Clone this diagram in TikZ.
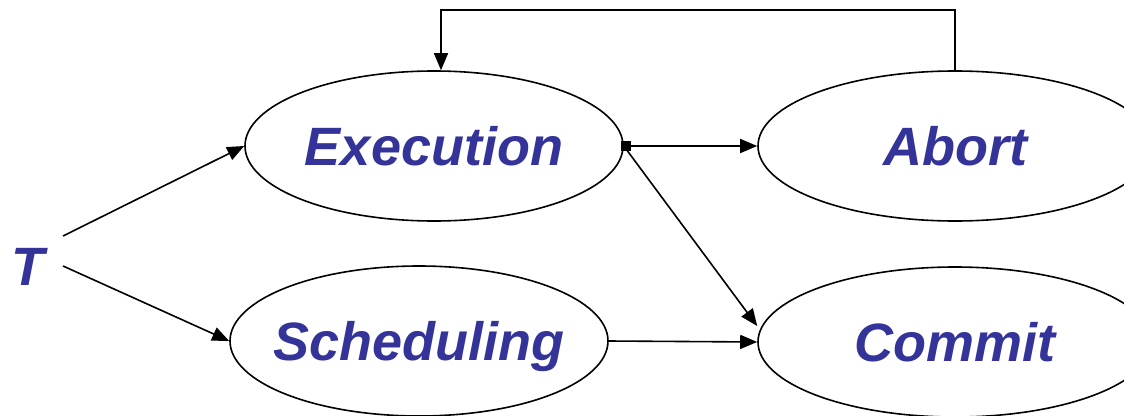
\documentclass[tikz,border=0pt]{standalone}
\usepackage{fontspec}
\setmainfont{Liberation Sans}
\usetikzlibrary{shapes.geometric,arrows.meta,calc}
\definecolor{labelblue}{HTML}{333399}
\tikzset{
  labeltext/.style={font=\fontsize{54}{64}\selectfont\bfseries\itshape, text=labelblue},
  state/.style={ellipse, draw, line width=1.6pt, inner ysep=0pt, inner xsep=-60pt,
    text height=38pt, text depth=0pt,
    minimum width=378pt, minimum height=150pt, labeltext},
  flow/.style={line width=1.6pt, -{Triangle[length=17pt,width=14pt]}},
}
\begin{document}
\begin{tikzpicture}[x=1pt,y=-1pt]
  \useasboundingbox (0,0) rectangle (1124,415);
  \clip (0,0) rectangle (1124,415);

  \node[labeltext, text height=38pt, text depth=0pt] (T) at (28,266) {T};
  \node[state] (exec)  at (434,146) {Execution};
  \node[state] (sched) at (419,341) {Scheduling};
  \node[state, minimum width=394pt] (abort)  at (955,146) {Abort};
  \node[state, minimum width=394pt] (commit) at (955,342) {Commit};

  \coordinate (loop) at (955,10);

  \draw[flow] ([xshift=15pt,yshift=30pt]T.east) -- (exec.west);
  \draw[flow] ([xshift=15pt]T.east) -- (sched.west);
  \draw[flow, {Square[length=10pt,width=10pt]}-{Triangle[length=17pt,width=14pt]}]
    ([xshift=-3pt]exec.east) -- (abort.west);
  \draw[flow] (exec.east) -- ([yshift=16pt]commit.west);
  \draw[flow] (sched.east) -- (commit.west);
  \draw[flow] (abort.north) -- (loop) -| ([xshift=7pt]exec.north);
\end{tikzpicture}
\end{document}
